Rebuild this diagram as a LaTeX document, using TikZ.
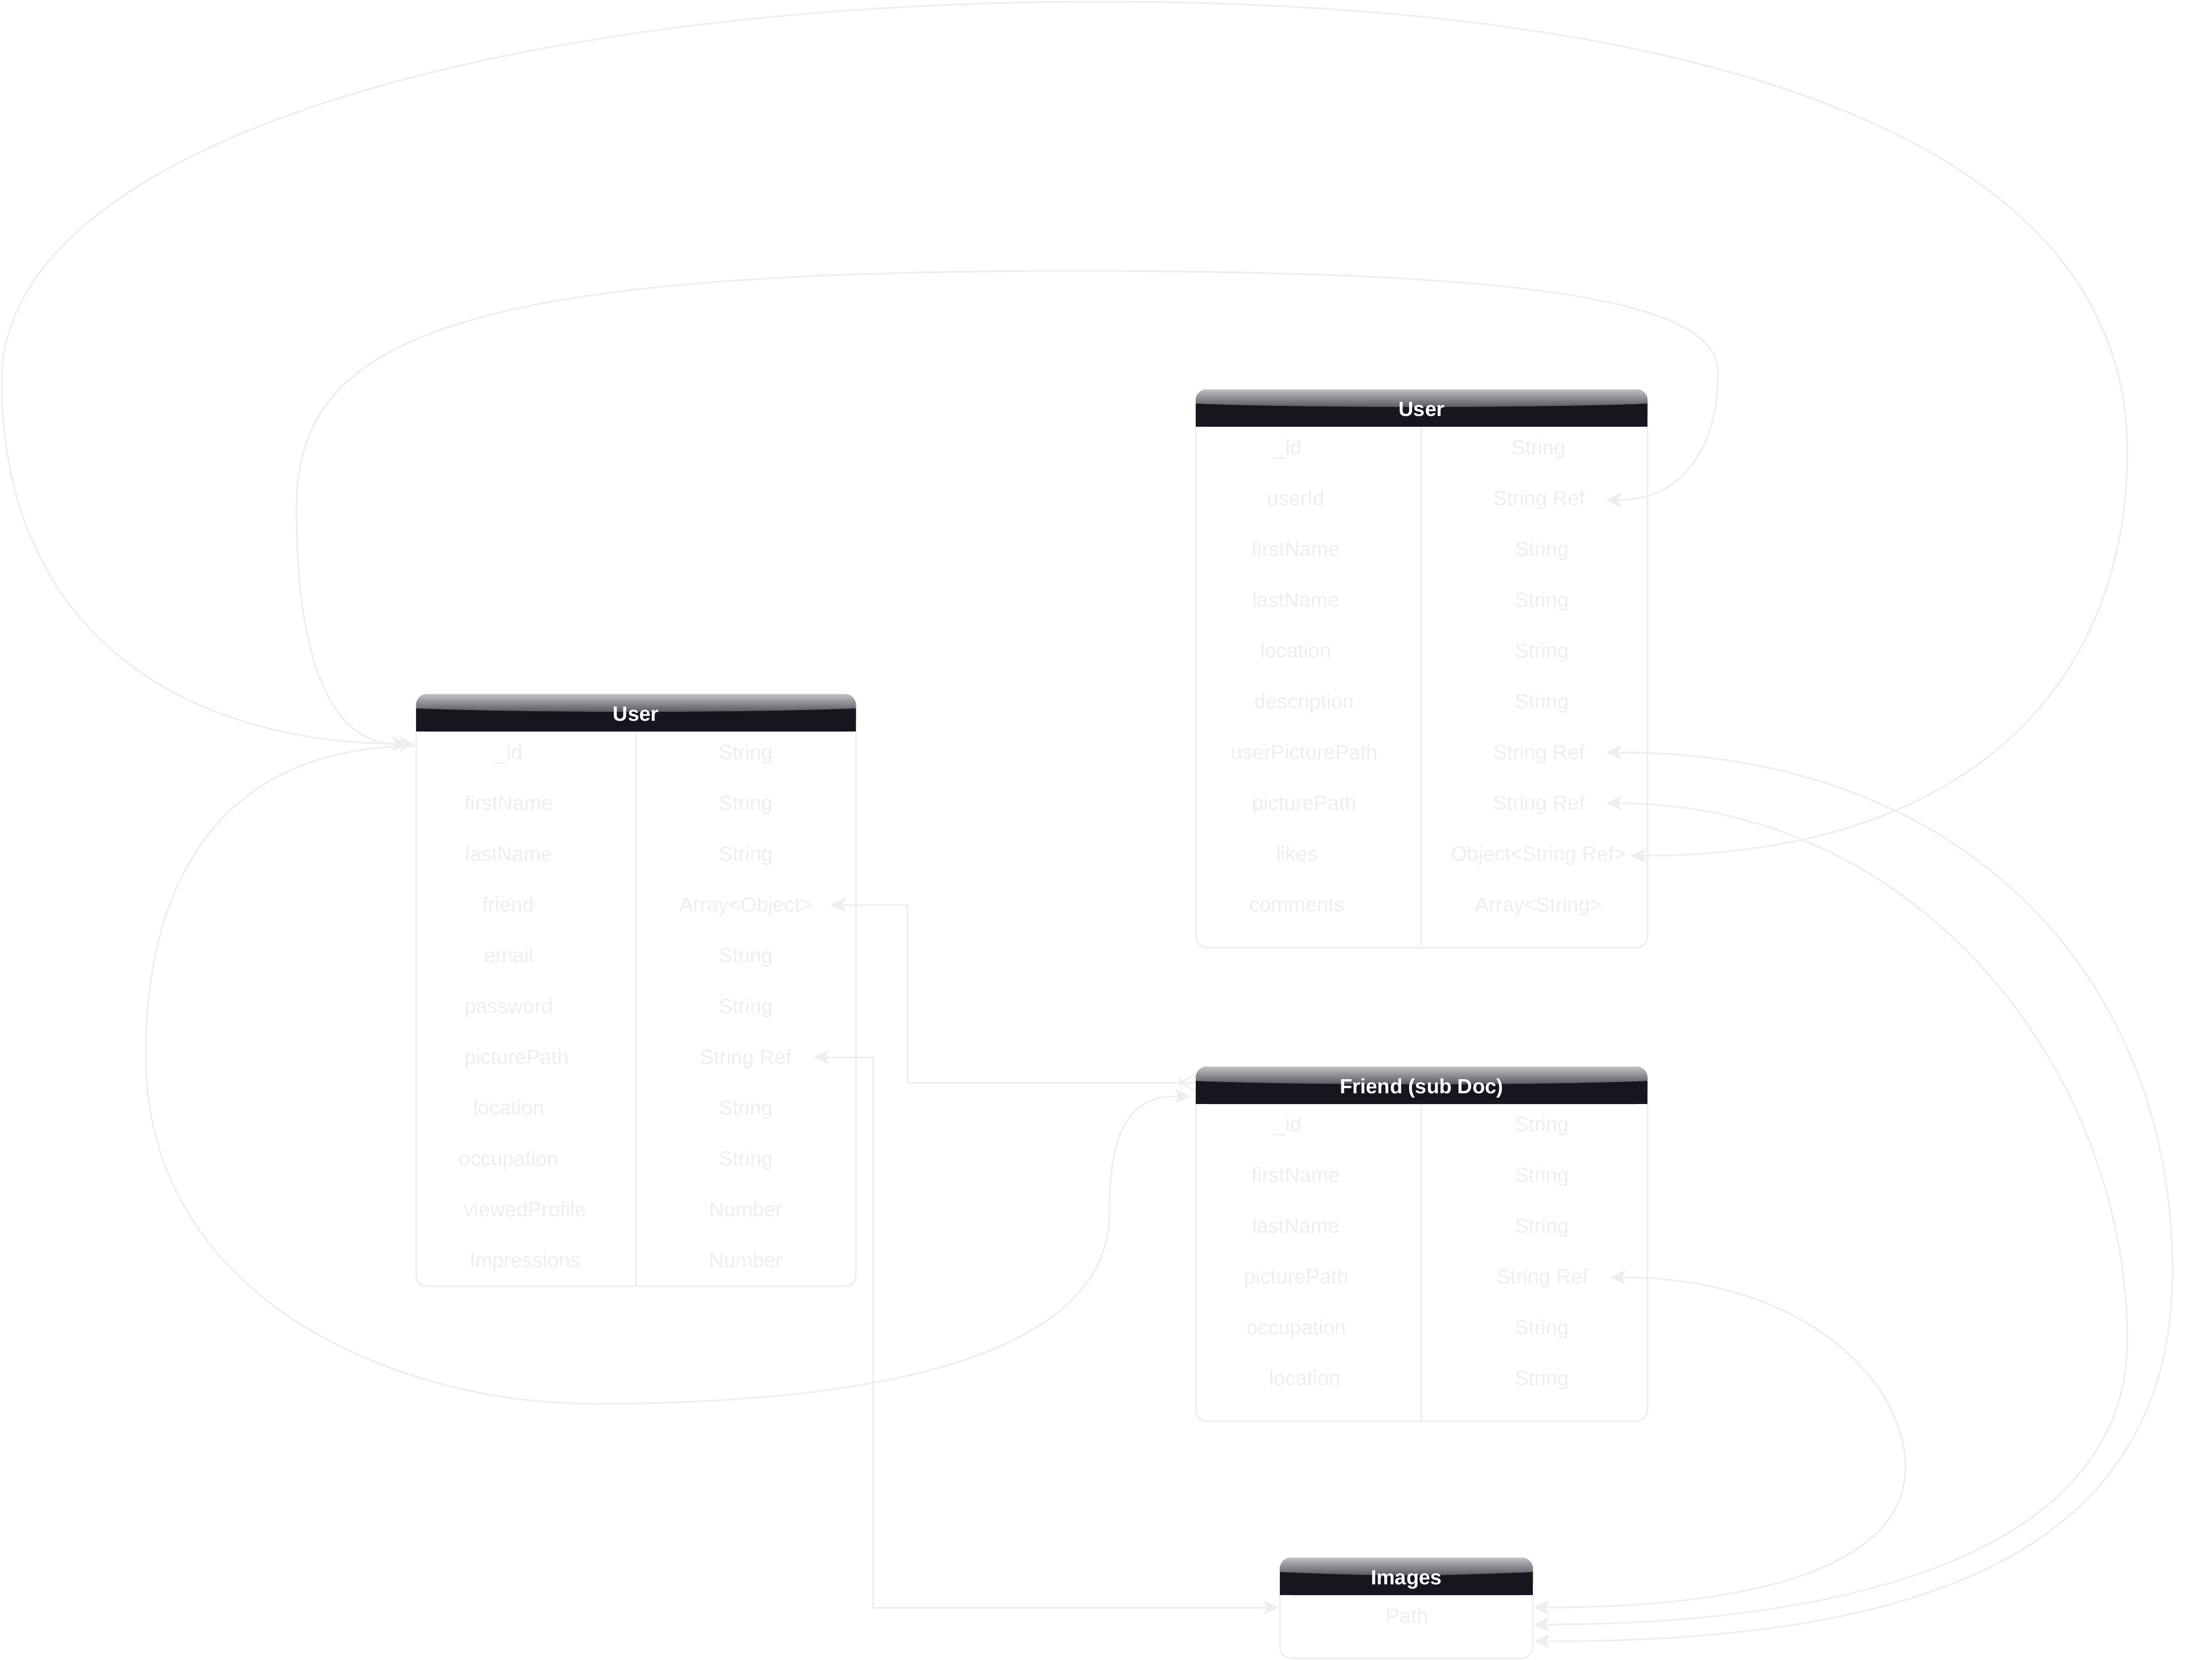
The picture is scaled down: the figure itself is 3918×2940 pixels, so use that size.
\documentclass[tikz,border=0pt]{standalone}
\usepackage{fontspec}
\setmainfont{Liberation Sans}
\usetikzlibrary{arrows.meta}
\definecolor{lg}{HTML}{EEEEEE}
\definecolor{hdark}{HTML}{18151F}
\definecolor{gtop}{HTML}{C6C6C8}
\definecolor{gbot}{HTML}{54525A}
\tikzset{
  >={Stealth[length=27pt,width=26pt,inset=6pt]},
  conn/.style={draw=lg, line width=3pt},
  divl/.style={draw=lg, line width=3pt},
  fld/.style={text=lg, font=\fontsize{36.5}{43}\selectfont, anchor=base, inner sep=0pt},
  hdr/.style={text=white, font=\fontsize{36.5}{43}\selectfont\bfseries, anchor=base, inner sep=0pt},
}
% #1 name, #2 x1, #3 ytop, #4 x2, #5 ybot, #6 header bottom, #7 title
\newcommand\erbox[7]{%
  \draw[lg, line width=3pt, rounded corners=20pt] (#2,#3) rectangle (#4,#5);
  \fill[hdark, rounded corners=20pt] (#2,#3) rectangle (#4,#6);
  \fill[hdark] (#2,#3+25) rectangle (#4,#6);
  \begin{scope}
    \clip[rounded corners=20pt] (#2,#3) rectangle (#4,#6+30);
    \shade[top color=gtop, bottom color=gbot] (#2-2,#3-2) -- (#4+2,#3-2) -- (#4+2,#3+25)
      .. controls (#4-200,#3+33) and (#2+200,#3+33) .. (#2-2,#3+25) -- cycle;
  \end{scope}
  \node[hdr] (#1) at ({(#2+#4)/2},#3+47) {#7};
}
\begin{document}
\begin{tikzpicture}[x=1pt,y=-1pt]
\useasboundingbox (0,0) rectangle (3918,2940);

% ---------------- tables ----------------
\erbox{luH}{737}{1230}{1516}{2279}{1296}{User}
\draw[divl] (1126,1296) -- (1126,2279);
\erbox{ruH}{2118}{690}{2918}{1679}{756}{User}
\draw[divl] (2517,756) -- (2517,1679);
\erbox{frH}{2118}{1890}{2918}{2518}{1956}{Friend (sub Doc)}
\draw[divl] (2517,1956) -- (2517,2518);
\erbox{imH}{2267}{2760}{2715}{2938}{2826}{Images}

% left User fields
\node[fld] (lu1k) at (901,1345) {\_id};
\node[fld] (lu2k) at (901,1435) {firstName};
\node[fld] (lu3k) at (901,1525) {lastName};
\node[fld] (lu4k) at (900,1615) {friend};
\node[fld] (lu5k) at (901,1705) {email};
\node[fld] (lu6k) at (901,1795) {password};
\node[fld] (lu7k) at (915,1885) {picturePath};
\node[fld] (lu8k) at (901,1975) {location};
\node[fld] (lu9k) at (901,2065) {occupation};
\node[fld] (lu10k) at (930,2155) {viewedProfile};
\node[fld] (lu11k) at (930,2245) {Impressions};
\node[fld] (lu1t) at (1321,1345) {String};
\node[fld] (lu2t) at (1321,1435) {String};
\node[fld] (lu3t) at (1321,1525) {String};
\node[fld] (lu4t) at (1321,1615) {Array<Object>};
\node[fld] (lu5t) at (1321,1705) {String};
\node[fld] (lu6t) at (1321,1795) {String};
\node[fld] (lu7t) at (1321,1885) {String Ref};
\node[fld] (lu8t) at (1321,1975) {String};
\node[fld] (lu9t) at (1321,2065) {String};
\node[fld] (lu10t) at (1321,2155) {Number};
\node[fld] (lu11t) at (1321,2245) {Number};

% right User fields
\node[fld] (ru1k) at (2281,805) {\_id};
\node[fld] (ru2k) at (2295,895) {userId};
\node[fld] (ru3k) at (2295,985) {firstName};
\node[fld] (ru4k) at (2295,1075) {lastName};
\node[fld] (ru5k) at (2295,1165) {location};
\node[fld] (ru6k) at (2310,1255) {description};
\node[fld] (ru7k) at (2310,1345) {userPicturePath};
\node[fld] (ru8k) at (2310,1435) {picturePath};
\node[fld] (ru9k) at (2297,1525) {likes};
\node[fld] (ru10k) at (2297,1615) {comments};
\node[fld] (ru1t) at (2725,805) {String};
\node[fld] (ru2t) at (2726,895) {String Ref};
\node[fld] (ru3t) at (2731,985) {String};
\node[fld] (ru4t) at (2731,1075) {String};
\node[fld] (ru5t) at (2731,1165) {String};
\node[fld] (ru6t) at (2731,1255) {String};
\node[fld] (ru7t) at (2726,1345) {String Ref};
\node[fld] (ru8t) at (2726,1435) {String Ref};
\node[fld] (ru9t) at (2725,1525) {Object<String Ref>};
\node[fld] (ru10t) at (2725,1615) {Array<String>};

% Friend fields
\node[fld] (fr1k) at (2281,2004) {\_id};
\node[fld] (fr2k) at (2295,2094) {firstName};
\node[fld] (fr3k) at (2295,2184) {lastName};
\node[fld] (fr4k) at (2296,2274) {picturePath};
\node[fld] (fr5k) at (2296,2364) {occupation};
\node[fld] (fr6k) at (2311,2454) {location};
\node[fld] (fr1t) at (2731,2004) {String};
\node[fld] (fr2t) at (2731,2094) {String};
\node[fld] (fr3t) at (2731,2184) {String};
\node[fld] (fr4t) at (2732,2274) {String Ref};
\node[fld] (fr5t) at (2731,2364) {String};
\node[fld] (fr6t) at (2731,2454) {String};

% Images field
\node[fld] (im1) at (2492,2875) {Path};

% ---------------- connector end points ----------------
\coordinate (luA) at (735,1318);
\coordinate (luB) at (722,1318);
\coordinate (luC) at (735,1322);
\coordinate (ruLikes) at (2888,1516);
\coordinate (ruUserId) at (2845,886);
\coordinate (ruUPic) at (2845,1333);
\coordinate (ruPic) at (2845,1423);
\coordinate (luArr) at (1471,1603);
\coordinate (luPic) at (1441,1873);
\coordinate (frCrow) at (2090,1918);
\coordinate (frW) at (2117,1918);
\coordinate (frW2) at (2108,1942);
\coordinate (frPic) at (2852,2263);
\coordinate (imW) at (2265,2848);
\coordinate (imE1) at (2717,2848);
\coordinate (imE2) at (2717,2878);
\coordinate (imE3) at (2717,2908);

% ---------------- connectors ----------------
% likes -> left User (outer loop)
\draw[conn,<->] (ruLikes) .. controls (3500,1516) and (3768,1200) .. (3768,800)
  .. controls (3768,200) and (2900,3) .. (1950,3)
  .. controls (900,3) and (3,250) .. (3,675)
  .. controls (3,1100) and (300,1318) .. (luA);
% userId -> left User (inner loop)
\draw[conn,<->] (ruUserId) .. controls (2990,886) and (3043,780) .. (3043,660)
  .. controls (3043,530) and (2700,480) .. (1900,480)
  .. controls (800,480) and (525,600) .. (525,900)
  .. controls (525,1200) and (600,1318) .. (luB);
% left User -> Friend
\draw[conn,->] (luC) .. controls (400,1322) and (258,1550) .. (258,1870)
  .. controls (258,2300) and (700,2487) .. (1050,2487)
  .. controls (1700,2487) and (1965,2350) .. (1965,2150)
  .. controls (1965,2000) and (2000,1942) .. (frW2);
% friend Array<Object> -> Friend (one to many)
\draw[conn,<-] (luArr) -- (1607,1603) -- (1607,1918) -- (frW);
\draw[conn] (frCrow) -- (2115,1905) (frCrow) -- (2115,1931) (2090,1907) -- (2090,1929);
% picturePath (left User) -> Images
\draw[conn,<->] (luPic) -- (1546,1873) -- (1546,2848) -- (imW);
% Friend picturePath -> Images
\draw[conn,<->] (frPic) .. controls (3200,2263) and (3375,2450) .. (3375,2600)
  .. controls (3375,2760) and (3150,2848) .. (imE1);
% right User picturePath -> Images
\draw[conn,<->] (ruPic) .. controls (3400,1423) and (3768,1900) .. (3768,2374)
  .. controls (3768,2740) and (3300,2878) .. (imE2);
% right User userPicturePath -> Images
\draw[conn,<->] (ruUPic) .. controls (3500,1333) and (3848,1750) .. (3848,2250)
  .. controls (3848,2780) and (3350,2908) .. (imE3);
\end{tikzpicture}
\end{document}
